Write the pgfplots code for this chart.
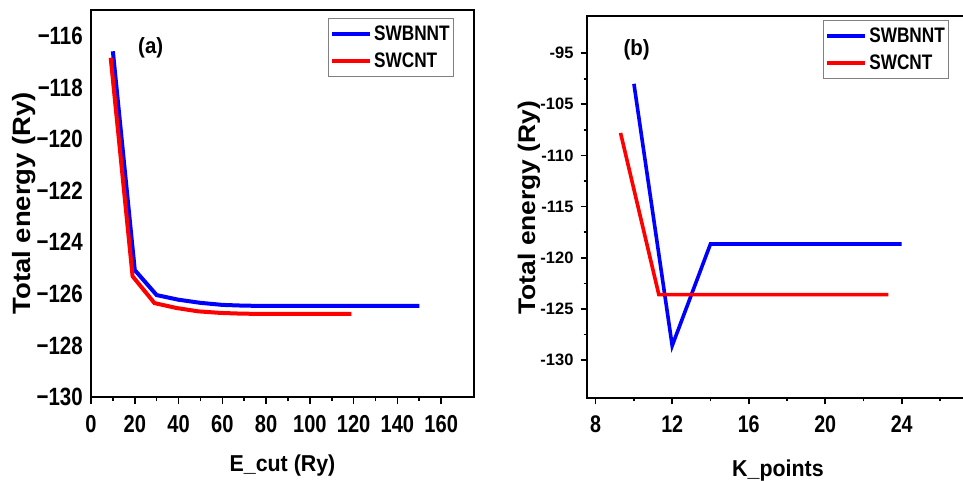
\documentclass[border=0pt]{standalone}
\usepackage{fontspec}
\setmainfont{Liberation Sans}
\newfontfamily\fA{Liberation Sans}[FakeStretch=0.82]
\newfontfamily\fB{Liberation Sans}[FakeStretch=0.93]
\newfontfamily\fC{Liberation Sans}[FakeStretch=1.1]
\usepackage{pgfplots}
\pgfplotsset{compat=1.18}
\begin{document}
\begin{tikzpicture}[x=1pt,y=1pt]
\begin{axis}[
  at={(91pt,83pt)}, anchor=south west,
  scale only axis, width=383pt, height=387pt,
  xmin=0, xmax=175, ymin=-130, ymax=-115,
  axis line style={line width=1.6pt},
  xtick={0,20,...,160}, xticklabels={0,20,40,60,80,100,120,140,160},
  minor x tick num=1,
  ytick={-130,-128,...,-116},
  yticklabels={−130,−128,−126,−124,−122,−120,−118,−116},
  tick align=outside, tick pos=left,
  major tick length=7pt, minor tick length=4pt,
  every tick/.style={line width=1.6pt, black},
  ytick style={draw=none},
  xticklabel style={font=\fA\bfseries\fontsize{24.5}{24.5}\selectfont, inner sep=0pt, yshift=-11pt},
  yticklabel style={font=\fA\bfseries\fontsize{25}{25}\selectfont, inner sep=0pt, xshift=-1pt},
  xlabel={E\_cut (Ry)},
  x label style={at={(axis description cs:0.5,-0.193)}, anchor=base, font=\fB\bfseries\fontsize{23}{23}\selectfont},
  ylabel={Total energy (Ry)},
  y label style={at={(axis description cs:-0.159,0.501)}, rotate=0, anchor=base, font=\fC\bfseries\fontsize{25}{25}\selectfont},
  legend style={at={(0.948,0.980)}, anchor=north east, draw=gray, line width=0.8pt,
    font=\fA\bfseries\fontsize{21}{21}\selectfont, inner xsep=2pt, inner ysep=5.5pt, row sep=7pt,
    /tikz/every even column/.append style={column sep=4pt}},
  legend image code/.code={\draw[#1, line width=4pt] (0pt,0pt) -- (38pt,0pt);},
  legend cell align=left,
]
\addplot[blue, line width=4pt] coordinates {(10,-116.6)(20,-125.08)(30,-126.05)(40,-126.23)(50,-126.35)(60,-126.43)(70,-126.46)(80,-126.47)(90,-126.47)(100,-126.47)(110,-126.47)(120,-126.47)(130,-126.47)(140,-126.47)(150,-126.47)};
\addlegendentry{SWBNNT}
\addplot[red, line width=4pt] coordinates {(9,-116.85)(19,-125.32)(29,-126.36)(39,-126.55)(49,-126.68)(59,-126.74)(69,-126.77)(79,-126.78)(89,-126.78)(99,-126.78)(109,-126.78)(119,-126.78)};
\addlegendentry{SWCNT}
\node[font=\fB\bfseries\fontsize{22}{22}\selectfont] at (axis description cs:0.156,0.903) {(a)};
\end{axis}
\begin{axis}[
  at={(586.7pt,81.7pt)}, anchor=south west,
  scale only axis, width=391.5pt, height=382.6pt,
  xmin=7.53, xmax=28, ymin=-133.74, ymax=-96.34,
  axis line style={line width=1.8pt},
  xtick={8,12,...,24}, xticklabels={8,12,16,20,24},
  minor xtick={10,14,18,22,26},
  ytick={-130,-125,...,-100},
  yticklabels={-130,-125,-120,-115,-110,-105,-95},
  minor y tick num=1,
  tick align=outside, tick pos=left,
  major tick length=6pt, minor tick length=3pt,
  every tick/.style={line width=1.6pt, black},
  xticklabel style={font=\fA\bfseries\fontsize{24}{24}\selectfont, inner sep=0pt, yshift=-11pt},
  yticklabel style={font=\bfseries\fontsize{16.5}{16.5}\selectfont, inner sep=0pt, xshift=-7pt},
  xlabel={K\_points},
  x label style={at={(axis description cs:0.4886,-0.205)}, anchor=base, font=\fB\bfseries\fontsize{23}{23}\selectfont},
  ylabel={Total energy (Ry)},
  y label style={at={(axis description cs:-0.132,0.4987)}, rotate=0, anchor=base, font=\fC\bfseries\fontsize{24}{24}\selectfont},
  legend style={at={(0.926,0.989)}, anchor=north east, draw=gray, line width=0.8pt,
    font=\fA\bfseries\fontsize{21}{21}\selectfont, inner xsep=2pt, inner ysep=5.5pt, row sep=7pt,
    /tikz/every even column/.append style={column sep=4pt}},
  legend image code/.code={\draw[#1, line width=4pt] (0pt,0pt) -- (38pt,0pt);},
  legend cell align=left,
]
\addplot[blue, line width=3.6pt] coordinates {(10,-103)(12,-128.6)(14,-118.66)(16,-118.66)(20,-118.66)(24,-118.66)};
\addlegendentry{SWBNNT}
\addplot[red, line width=3.6pt] coordinates {(9.3,-107.8)(11.3,-123.6)(15.3,-123.6)(19.3,-123.6)(23.3,-123.6)};
\addlegendentry{SWCNT}
\node[font=\fB\bfseries\fontsize{22}{22}\selectfont] at (axis description cs:0.1277,0.910) {(b)};
\end{axis}
\pgfresetboundingbox
\path[use as bounding box] (0pt,0pt) rectangle (963pt,480pt);
\end{tikzpicture}
\end{document}
